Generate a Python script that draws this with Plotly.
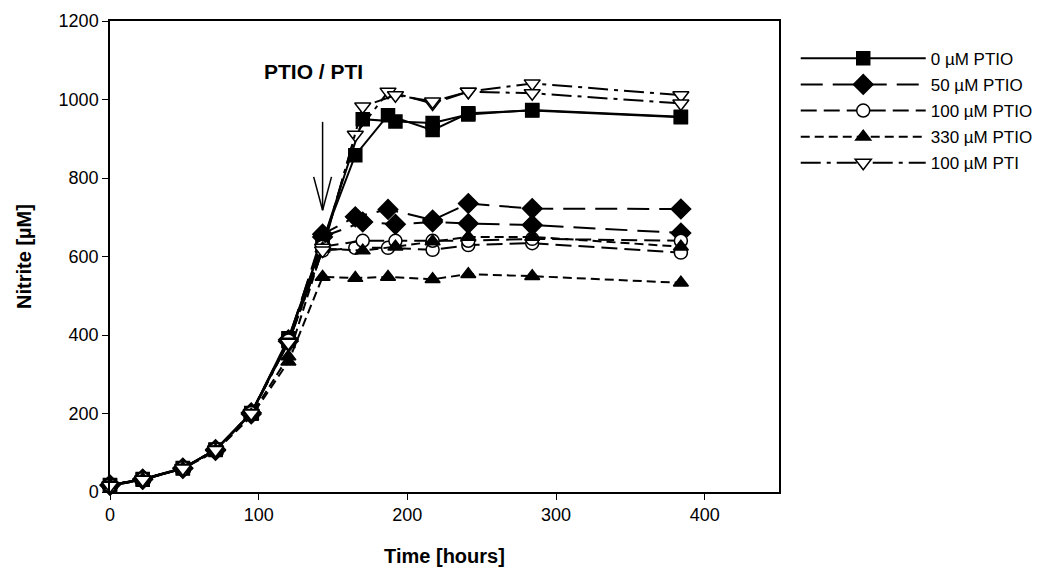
import plotly.graph_objects as go

# ---- data ----
early_t = [0, 22, 49, 71, 95, 120, 143]
t_rep_a = early_t + [165, 187, 217, 241, 284, 384]
t_rep_b = early_t + [170, 192, 217, 241, 284, 384]

conditions = ["0 \u00b5M PTIO", "50 \u00b5M PTIO", "100 \u00b5M PTIO", "330 \u00b5M PTIO", "100 \u00b5M PTI"]

ptio0_a = [18, 33, 61, 107, 201, 385, 640, 858, 960, 922, 965, 972, 955]
ptio0_b = [16, 31, 60, 108, 200, 392, 635, 950, 944, 940, 962, 973, 956]

ptio50_a = [18, 32, 61, 106, 199, 384, 657, 701, 720, 693, 735, 722, 721]
ptio50_b = [17, 33, 60, 108, 202, 388, 650, 688, 682, 688, 684, 680, 660]

ptio100_a = [18, 32, 60, 107, 200, 382, 615, 622, 622, 617, 629, 634, 610]
ptio100_b = [17, 33, 61, 108, 201, 386, 625, 640, 640, 640, 640, 645, 640]

ptio330_a = [18, 32, 59, 104, 192, 332, 548, 545, 548, 542, 555, 550, 533]
ptio330_b = [17, 31, 60, 106, 196, 345, 620, 615, 625, 638, 650, 650, 625]

pti_a = [17, 32, 61, 108, 201, 383, 622, 910, 1020, 990, 1020, 1041, 1011]
pti_b = [16, 31, 60, 107, 200, 380, 615, 982, 1011, 995, 1020, 1016, 990]

series_a = [ptio0_a, ptio50_a, ptio100_a, ptio330_a, pti_a]
series_b = [ptio0_b, ptio50_b, ptio100_b, ptio330_b, pti_b]

# ---- styles ----
dashes = ["solid", "22px,10px", "16px,7px", "9px,5px", "20px,6px,4px,6px"]
symbols = ["square", "diamond", "circle", "triangle-up", "triangle-down"]
sizes = [13, 15, 13, 13, 14]
fills = ["black", "black", "white", "black", "white"]

FONT = "Liberation Sans, Arial, sans-serif"

fig = go.Figure()
for i, name in enumerate(conditions):
    for rep, (tt, yy) in enumerate([(t_rep_a, series_a[i]), (t_rep_b, series_b[i])]):
        fig.add_trace(go.Scatter(
            x=tt, y=yy, mode="lines+markers", name=name,
            legendgroup=name, showlegend=(rep == 0),
            line=dict(color="black", width=2, dash=dashes[i]),
            marker=dict(symbol=symbols[i], size=sizes[i], color=fills[i],
                        line=dict(color="black", width=1.5)),
            cliponaxis=False,
        ))

# arrow and label for the PTIO / PTI addition
arrow_x = 143
fig.add_shape(type="line", x0=arrow_x, x1=arrow_x, y0=943, y1=718,
              line=dict(color="black", width=1.5))
fig.add_shape(type="line", x0=arrow_x - 6, x1=arrow_x, y0=803, y1=718,
              line=dict(color="black", width=1.5))
fig.add_shape(type="line", x0=arrow_x + 6, x1=arrow_x, y0=803, y1=718,
              line=dict(color="black", width=1.5))
fig.add_annotation(x=137, y=1072, text="<b>PTIO / PTI</b>", showarrow=False,
                   font=dict(family=FONT, size=21, color="black"))

fig.update_xaxes(range=[0, 450], tickvals=[0, 100, 200, 300, 400],
                 ticks="outside", ticklen=6, tickcolor="black",
                 showline=True, linecolor="black", linewidth=1.5, mirror=True,
                 showgrid=False, zeroline=False,
                 tickfont=dict(family=FONT, size=18, color="black"),
                 title=dict(text="<b>Time [hours]</b>", standoff=25,
                            font=dict(family=FONT, size=20, color="black")))
fig.update_yaxes(range=[0, 1200], tickvals=[0, 200, 400, 600, 800, 1000, 1200],
                 ticks="outside", ticklen=6, tickcolor="black",
                 showline=True, linecolor="black", linewidth=1.5, mirror=True,
                 showgrid=False, zeroline=False,
                 tickfont=dict(family=FONT, size=18, color="black"),
                 title=dict(text="<b>Nitrite [\u00b5M]</b>", standoff=22,
                            font=dict(family=FONT, size=20, color="black")))

fig.update_layout(
    width=1043, height=571,
    margin=dict(l=102, r=272, t=13, b=87, autoexpand=False),
    plot_bgcolor="white", paper_bgcolor="white",
    font=dict(family=FONT, color="black"),
    legend=dict(x=1.025, y=0.958, xanchor="left", yanchor="top",
                font=dict(family=FONT, size=17, color="black"),
                itemwidth=125, tracegroupgap=1, bgcolor="rgba(0,0,0,0)"),
)

fig.write_html("out.html")
